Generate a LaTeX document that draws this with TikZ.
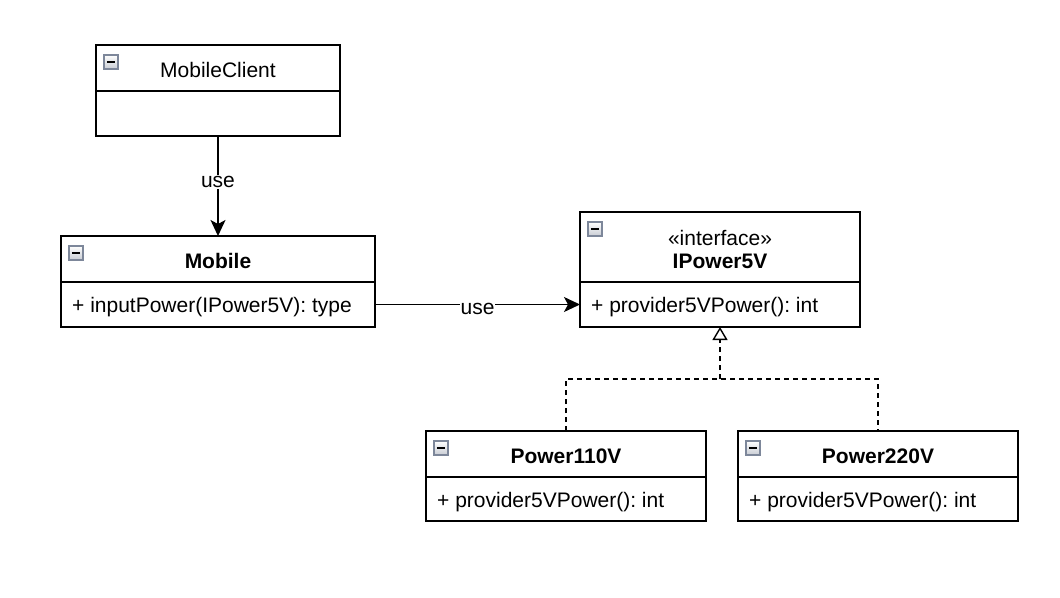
\documentclass[tikz,border=0pt]{standalone}
\usepackage{fontspec}
\setmainfont{Liberation Sans}
\usepackage{tikz}
\usetikzlibrary{arrows.meta,positioning}
\definecolor{ink}{HTML}{000000}
\definecolor{iconedge}{HTML}{7D879A}
\definecolor{icontop}{HTML}{FFFFFF}
\definecolor{iconbottom}{HTML}{C9CDD4}
\frenchspacing

\begin{document}
\begin{tikzpicture}[x=1pt,y=-1pt,font=\fontsize{21}{23}\selectfont,
    classhead/.style={draw=ink,line width=1.5pt,inner sep=0pt,outer sep=0pt},
    classbody/.style={draw=ink,line width=1.5pt,inner sep=0pt,outer sep=0pt},
    title/.style={align=center,inner sep=0pt,text=ink},
    member/.style={anchor=west,inner sep=0pt,text=ink},
    classicon/.style={draw=iconedge,line width=1.6pt,minimum size=14pt,inner sep=0pt,
      top color=icontop,bottom color=iconbottom,
      path picture={\draw[ink,line width=2.2pt]
        ([xshift=3pt]path picture bounding box.west) --
        ([xshift=-3pt]path picture bounding box.east);}},
    uses/.style={draw=ink,line width=1.5pt,-{Stealth[length=16pt,width=15pt,inset=4pt]}},
    realize/.style={draw=ink,line width=1.4pt,dash pattern=on 5pt off 4pt},
    uselabel/.style={fill=white,inner sep=1pt,text=ink}]
  \useasboundingbox (0,0) rectangle (1060,597);

  \newcommand{\classbox}[8]{%
    \node[classhead,minimum width=#4,minimum height=#5,anchor=north] (#1) at (#2,#3) {};
    \node[title] (#1title) at ([yshift=-2pt]#1.center) {#6};
    \node[classbody,minimum width=#4,minimum height=#8,below=0pt of #1] (#1body) {};
    \node[member] (#1member) at ([xshift=11pt,yshift=-3pt]#1body.west) {#7};
    \node[classicon,anchor=north west] (#1icon) at ([xshift=7pt,yshift=-9pt]#1.north west) {};
  }

  \classbox{client}{218}{45}{244}{46}{MobileClient}{}{45}
  \classbox{mobile}{218}{236}{314}{46}{\bfseries Mobile}{+ inputPower(IPower5V): type}{45}
  \classbox{ipower}{720}{212}{280}{70}{«interface»\\\bfseries IPower5V}{+ provider5VPower(): int}{45}
  \classbox{pa}{566}{431}{280}{46}{\bfseries Power110V}{+ provider5VPower(): int}{44}
  \classbox{pb}{878}{431}{280}{46}{\bfseries Power220V}{+ provider5VPower(): int}{44}

  % associations
  \draw[uses] (clientbody.south) -- node[uselabel,pos=0.46] {use} (mobile.north);
  \draw[uses] (mobilebody.east) -- node[uselabel,yshift=-4pt] {use} (ipowerbody.west);

  % realization
  \coordinate (join) at (720,379);
  \draw[realize] (pa.north) |- (join) -| (pb.north);
  \draw[realize,-{Triangle[open,length=13pt,width=15pt]}] (join) -- (ipowerbody.south);
\end{tikzpicture}
\end{document}
